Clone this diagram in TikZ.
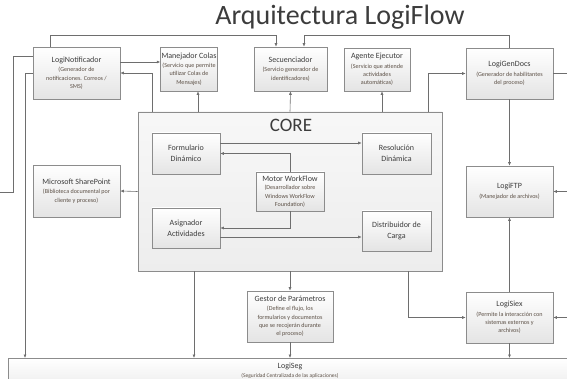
\documentclass[tikz,border=0pt]{standalone}
\usepackage{fontspec}
\setmainfont{Carlito}
\usetikzlibrary{arrows.meta,shadows}
\definecolor{boxline}{HTML}{8C8C8C}
\definecolor{boxbot}{HTML}{E4E4E4}
\definecolor{corebot}{HTML}{EDEDED}
\definecolor{linec}{HTML}{6E6E6E}
\definecolor{ttlc}{HTML}{3C3C3C}
\definecolor{subc}{HTML}{5C5046}
\newcommand{\bxt}[1]{{\fontsize{8}{10}\selectfont\color{ttlc}#1}}
\begin{document}
\begin{tikzpicture}[x=1pt,y=-1pt,
 box/.style={draw=boxline, line width=0.6pt, top color=white, bottom color=boxbot, align=center, inner sep=1pt, text=subc, font=\fontsize{6.1}{8.3}\selectfont, drop shadow={shadow xshift=0.8pt,shadow yshift=-0.8pt,opacity=0.25}},
 cbox/.style={box, font=\fontsize{8}{11}\selectfont, text=ttlc},
 conn/.style={draw=linec, line width=0.6pt},
 arr/.style={conn, -{Latex[length=3.5pt,width=3pt]}},
]
\useasboundingbox (0,0) rectangle (567,379);
\clip (0,0) rectangle (567,379);

\node[font=\fontsize{28}{32}\selectfont, text=ttlc] (title) at (340,17) {Arquitectura LogiFlow};

% top row
\node[box, minimum width=87pt, minimum height=52pt] (notif) at (76.5,73)
 {\bxt{LogiNotificador}\\[1.5pt](Generador de\\notificaciones. Correos /\\SMS)};
\node[box, minimum width=54pt, minimum height=44pt] (colas) at (189,69)
 {\bxt{Manejador Colas}\\[1pt](Servicio que permite\\utilizar Colas de\\Mensajes)};
\node[box, minimum width=73pt, minimum height=44pt] (secu) at (290.5,69)
 {\bxt{Secuenciador}\\[1pt](Servicio generador de\\identificadores)};
\node[box, minimum width=66pt, minimum height=43pt] (agente) at (377,69.5)
 {\bxt{Agente Ejecutor}\\[1pt](Servicio que atiende\\actividades\\automáticas)};
\node[box, minimum width=87pt, minimum height=51pt] (gendocs) at (509.5,73.5)
 {\bxt{LogiGenDocs}\\[1.5pt](Generador de habilitantes\\del proceso)};

% core
\node[draw=boxline, line width=0.6pt, top color=white!97!black, bottom color=corebot, minimum width=304pt, minimum height=159pt, drop shadow={shadow xshift=0.8pt,shadow yshift=-0.8pt,opacity=0.25}] (core) at (290,191.5) {};
\node[font=\fontsize{19}{22}\selectfont, text=ttlc] (corelbl) at (291,125) {CORE};
\node[cbox, minimum width=68pt, minimum height=41pt] (form) at (186,153.5) {Formulario\\Dinámico};
\node[cbox, minimum width=69pt, minimum height=41pt] (resol) at (396.5,153.5) {Resolución\\Dinámica};
\node[box, minimum width=68pt, minimum height=39pt] (motor) at (290,191.5)
 {\bxt{Motor WorkFlow}\\[0.5pt](Desarrollador sobre\\Windows WorkFlow\\Foundation)};
\node[cbox, minimum width=68pt, minimum height=40pt] (asig) at (186,228) {Asignador\\Actividades};
\node[cbox, minimum width=69pt, minimum height=40pt] (distr) at (396.5,231) {Distribuidor de\\Carga};

% side boxes
\node[box, minimum width=87pt, minimum height=52pt] (share) at (76.5,191)
 {\bxt{Microsoft SharePoint}\\[1pt](Biblioteca documental por\\cliente y proceso)};
\node[box, minimum width=87pt, minimum height=51pt] (ftp) at (509.5,191.5)
 {\bxt{LogiFTP}\\[1.5pt](Manejador de archivos)};
\node[box, minimum width=87pt, minimum height=51pt] (siex) at (509.5,317.5)
 {\bxt{LogiSiex}\\[1pt](Permite la interacción con\\sistemas externos y\\archivos)};
\node[box, minimum width=86pt, minimum height=51pt] (gestor) at (290,316.5)
 {\bxt{Gestor de Parámetros}\\[0.5pt](Define el flujo, los\\formularios y documentos\\que se recojerán durante\\el proceso)};

% LogiSeg
\node[box, minimum width=612pt, minimum height=42pt, anchor=north west] (seg) at (8,358) {};
\node[font=\fontsize{8}{10}\selectfont, text=ttlc] (segt) at (290,366) {LogiSeg};
\node[font=\fontsize{5.5}{7}\selectfont, text=subc] (segs) at (290,375.5) {(Seguridad Centralizada de las aplicaciones)};

% helper coordinates
\coordinate (topL) at (276,35);
\coordinate (topR) at (304,35);
\coordinate (bendL) at (13,192);
\coordinate (offL) at (-5,192);
\coordinate (offR1) at (580,73.5);
\coordinate (offR2) at (580,191.5);
\coordinate (offR3) at (580,317.5);

% top bus to Secuenciador
\draw[arr] ([xshift=-26.5pt]notif.north) |- (topL) -- ([xshift=-14.5pt]secu.north);
\draw[arr] (gendocs.north) |- (topR) -- ([xshift=13.5pt]secu.north);

% LogiNotificador links
\draw[arr] ([yshift=11pt]notif.east) -- ([yshift=7pt]colas.west);
\draw[arr] ([xshift=-138pt]core.north) |- (notif.east);
\draw[conn] ([yshift=17pt]notif.west) -| (bendL) -- (offL);
\draw[arr] (notif.west) -| ([xshift=17pt]seg.north west);

% core to top row
\draw[arr] ([xshift=-92pt]core.north) -- ([xshift=9pt]colas.south);
\draw[arr] (core.north) -- (secu.south);
\draw[arr] ([xshift=92pt]core.north) -- ([xshift=5pt]agente.south);
\draw[arr] ([xshift=138pt]core.north) |- (gendocs.west);

% core to sides
\draw[arr] (core.west) -- (share.east);
\draw[arr] ([xshift=-96pt]core.south) -- ([xshift=186pt]seg.north west);
\draw[arr] (core.south) -- (gestor.north);
\draw[arr] (gestor.south) -- ([xshift=282pt]seg.north west);
\draw[arr] ([xshift=118pt]core.south) |- (siex.west);

% right column
\draw[arr] (gendocs.south) -- (ftp.north);
\draw[arr] (siex.north) -- (ftp.south);
\draw[arr] (siex.south) -- ([xshift=501.5pt]seg.north west);
\draw[conn] (gendocs.east) -- (offR1);
\draw[arr] (offR2) -- (ftp.east);
\draw[arr] (offR3) -- (siex.east);

% inside core
\draw[arr] ([yshift=10.5pt]form.east) -- ([yshift=10.5pt]resol.west);
\draw[arr] (motor.north) |- (form.east);
\draw[arr] (motor.south) |- (asig.east);
\draw[arr] ([yshift=-9pt]asig.east) -- ([yshift=-6pt]distr.west);
\end{tikzpicture}
\end{document}
